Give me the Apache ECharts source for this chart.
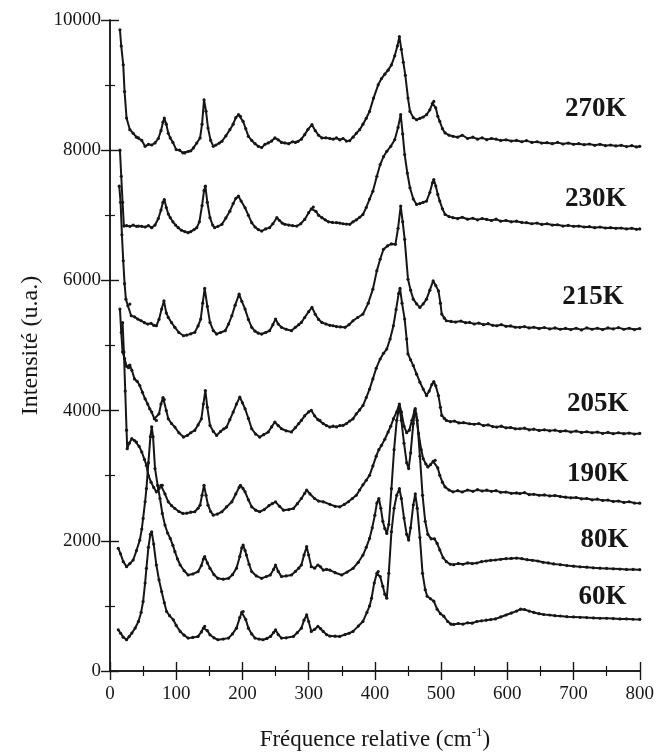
<!DOCTYPE html>
<html>
<head>
<meta charset="utf-8">
<script src="https://cdn.jsdelivr.net/npm/echarts@6/dist/echarts.min.js"></script>
<style>html,body{margin:0;padding:0;background:#fff;}#c{width:657px;height:756px;}</style>
</head>
<body>
<div id="c"></div>
<script>
// ---- data (x: cm-1, y: intensity u.a.) ----
const s270 = [[15,9850],[17,9600],[20,9311],[22,8900],[25,8494],[30,8315],[35,8260],[40,8200],[43,8188],[48,8150],[53,8060],[58,8090],[63,8080],[68,8112],[73,8180],[77,8300],[80,8430],[82,8494],[85,8400],[88,8260],[91,8188],[95,8120],[100,8009],[105,8000],[110,7960],[113,7958],[118,7980],[122,7990],[126,8035],[131,8110],[136,8188],[139,8400],[142,8775],[145,8600],[148,8341],[152,8150],[156,8060],[160,8080],[165,8110],[169,8137],[175,8220],[181,8315],[186,8400],[190,8500],[194,8545],[197,8520],[201,8443],[205,8330],[209,8213],[214,8150],[219,8100],[224,8060],[229,8040],[234,8090],[239,8112],[244,8140],[249,8188],[254,8160],[259,8120],[264,8112],[270,8100],[276,8130],[280,8120],[284,8137],[289,8170],[294,8239],[299,8320],[305,8392],[310,8300],[315,8230],[320,8188],[326,8190],[332,8180],[337,8170],[342,8188],[347,8160],[352,8180],[357,8140],[362,8147],[367,8200],[372,8260],[377,8315],[382,8400],[387,8490],[392,8596],[398,8800],[405,9004],[410,9100],[415,9168],[420,9230],[425,9311],[430,9450],[434,9600],[437,9744],[440,9550],[443,9350],[446,9150],[450,8800],[453,8596],[458,8500],[463,8468],[468,8490],[473,8510],[478,8545],[483,8620],[487,8720],[489,8750],[492,8650],[495,8520],[498,8443],[502,8330],[506,8265],[512,8230],[518,8213],[525,8200],[532,8230],[540,8180],[548,8200],[555,8170],[562,8190],[569,8162],[576,8180],[583,8170],[590,8150],[598,8160],[606,8140],[614,8150],[622,8130],[629,8147],[637,8120],[645,8130],[652,8110],[660,8115],[668,8100],[676,8120],[684,8095],[692,8110],[700,8090],[708,8100],[716,8085],[724,8095],[732,8075],[740,8090],[748,8070],[756,8080],[764,8065],[772,8075],[780,8055],[788,8070],[795,8050],[800,8060]];
const s230 = [[15,8000],[17,7600],[19,7200],[21,6835],[25,6840],[30,6830],[35,6850],[40,6830],[43,6835],[48,6830],[53,6820],[58,6840],[63,6810],[68,6850],[73,6950],[77,7080],[80,7200],[82,7243],[85,7120],[88,7020],[91,6963],[95,6900],[99,6850],[103,6810],[108,6770],[113,6750],[118,6733],[122,6750],[127,6780],[131,6810],[135,6900],[139,7150],[142,7380],[144,7447],[147,7200],[151,6963],[155,6850],[158,6810],[163,6830],[169,6861],[175,6960],[181,7064],[186,7180],[190,7260],[194,7294],[198,7220],[204,7116],[209,7000],[214,6887],[219,6820],[224,6780],[229,6758],[235,6790],[241,6810],[246,6870],[252,6963],[256,6920],[260,6880],[264,6861],[270,6850],[276,6840],[282,6835],[288,6870],[294,6937],[300,7040],[304,7100],[307,7126],[311,7060],[315,7000],[320,6963],[325,6930],[330,6900],[336,6890],[342,6887],[347,6880],[352,6870],[357,6865],[362,6861],[367,6900],[372,6930],[377,6970],[382,7014],[387,7120],[392,7250],[397,7371],[403,7600],[408,7779],[413,7900],[418,7983],[424,8060],[430,8162],[435,8350],[439,8545],[442,8250],[445,7933],[449,7650],[453,7423],[458,7250],[463,7167],[468,7180],[473,7200],[478,7218],[483,7350],[487,7500],[489,7550],[492,7450],[495,7320],[498,7218],[502,7100],[506,7014],[512,6980],[518,6963],[525,6950],[532,6970],[540,6940],[548,6955],[555,6930],[562,6950],[569,6937],[576,6920],[583,6940],[590,6910],[598,6920],[606,6900],[614,6910],[622,6890],[629,6887],[637,6870],[645,6880],[652,6860],[660,6870],[668,6850],[676,6855],[684,6835],[692,6845],[700,6830],[708,6835],[716,6820],[724,6825],[732,6810],[740,6820],[748,6805],[756,6810],[764,6800],[772,6805],[780,6790],[788,6800],[795,6785],[800,6790]];
const s215 = [[14,7447],[16,7200],[18,6700],[20,6300],[22,5950],[24,5712],[27,5610],[30,5636],[32,5457],[37,5440],[42,5406],[47,5380],[52,5350],[57,5329],[62,5340],[66,5310],[70,5303],[74,5400],[78,5560],[81.5,5686],[85,5500],[88,5432],[93,5350],[98,5279],[104,5200],[111,5150],[116,5160],[122,5180],[128,5202],[133,5300],[137,5406],[140,5650],[143,5876],[147,5600],[151,5355],[156,5230],[161,5176],[167,5200],[174,5227],[179,5330],[184,5457],[189,5620],[195,5789],[199,5680],[204,5559],[209,5400],[214,5279],[219,5220],[224,5190],[229,5176],[235,5200],[241,5227],[246,5320],[250,5406],[254,5330],[259,5279],[266,5250],[274,5227],[280,5280],[285,5320],[289,5355],[294,5430],[300,5520],[305,5585],[310,5480],[315,5400],[320,5355],[326,5330],[332,5310],[337,5303],[342,5290],[348,5285],[355,5279],[361,5320],[367,5380],[374,5430],[382,5482],[390,5650],[397,5865],[403,6150],[408,6325],[413,6478],[419,6530],[425,6560],[431,6554],[435,6800],[439,7141],[442,6900],[445,6631],[450,6018],[454,5850],[458,5712],[463,5640],[468,5585],[473,5640],[478,5712],[483,5850],[488,5992],[492,5920],[496,5839],[499,5650],[501,5482],[505,5420],[508,5380],[515,5370],[522,5360],[530,5375],[537,5350],[543,5355],[550,5330],[557,5345],[564,5320],[571,5335],[578,5310],[584,5303],[591,5320],[598,5295],[605,5300],[612,5280],[619,5279],[626,5290],[633,5270],[640,5280],[648,5260],[656,5275],[664,5255],[672,5270],[680,5250],[688,5262],[696,5245],[704,5265],[712,5240],[720,5270],[728,5250],[736,5265],[744,5245],[752,5270],[760,5255],[768,5275],[776,5250],[784,5265],[792,5245],[800,5260]];
const s205 = [[15,5560],[17,5200],[19,4900],[22,4800],[25,4680],[28,4660],[30,4700],[33,4620],[37,4487],[41,4450],[45,4385],[49,4280],[53,4181],[57,4100],[60,4028],[63,3977],[67,3874],[70,3849],[74,3950],[77,4100],[80,4200],[82,4170],[85,4000],[88,3874],[93,3800],[98,3747],[104,3660],[111,3594],[117,3620],[122,3660],[128,3696],[133,3780],[138,3874],[141,4100],[144,4308],[147,4050],[151,3772],[156,3680],[161,3619],[167,3680],[172,3720],[176,3747],[181,3860],[186,3977],[191,4100],[196,4206],[200,4120],[204,4028],[209,3880],[214,3721],[220,3640],[226,3594],[232,3630],[239,3671],[244,3750],[249,3824],[254,3770],[259,3721],[266,3690],[274,3671],[280,3740],[285,3800],[289,3849],[294,3920],[300,3980],[304,4002],[309,3920],[314,3860],[317,3849],[322,3800],[327,3770],[332,3747],[337,3760],[342,3750],[347,3770],[352,3772],[357,3800],[362,3840],[367,3874],[372,3950],[377,4010],[382,4078],[387,4200],[392,4330],[397,4487],[402,4650],[408,4793],[413,4880],[418,4946],[423,5100],[428,5303],[432,5550],[436,5800],[438,5876],[441,5650],[445,5406],[448,5100],[450,4870],[454,4780],[458,4691],[463,4560],[468,4436],[473,4330],[478,4231],[482,4300],[486,4400],[489,4447],[492,4380],[496,4231],[499,4050],[501,3926],[505,3880],[508,3849],[514,3830],[520,3840],[527,3810],[534,3815],[543,3798],[550,3790],[557,3800],[564,3770],[571,3780],[578,3755],[584,3747],[591,3760],[598,3735],[605,3740],[612,3720],[619,3721],[626,3730],[633,3705],[640,3715],[648,3695],[656,3705],[664,3690],[672,3700],[680,3680],[688,3690],[696,3670],[704,3685],[712,3665],[720,3675],[728,3660],[736,3670],[744,3650],[752,3665],[760,3645],[768,3660],[776,3645],[784,3655],[792,3640],[800,3650]];
const s190 = [[19,5350],[21,4900],[23,4300],[25,3700],[26,3415],[29,3500],[33,3568],[37,3540],[40,3517],[44,3450],[48,3364],[52,3250],[55,3160],[58,3000],[62,2900],[66,2820],[70,2752],[74,2800],[77,2850],[79,2853],[83,2720],[88,2599],[93,2540],[98,2496],[104,2450],[110,2420],[116,2425],[122,2440],[128,2446],[133,2500],[136,2547],[139,2700],[142,2853],[145,2700],[148,2547],[152,2450],[156,2394],[162,2410],[169,2446],[176,2520],[184,2599],[190,2720],[195,2820],[197,2853],[201,2800],[204,2752],[209,2630],[214,2522],[220,2470],[226,2446],[233,2480],[240,2540],[245,2570],[250,2599],[256,2530],[262,2471],[270,2480],[277,2496],[283,2570],[289,2650],[294,2730],[297,2777],[302,2720],[309,2650],[315,2610],[322,2599],[332,2560],[340,2530],[347,2522],[354,2560],[360,2600],[366,2650],[372,2700],[377,2780],[382,2860],[387,2930],[392,3006],[397,3150],[402,3300],[406,3400],[410,3466],[415,3560],[420,3671],[424,3760],[428,3874],[433,3980],[437,4100],[440,3980],[444,3760],[448,3660],[452,3700],[456,3850],[460,4000],[462,3950],[466,3650],[470,3400],[473,3262],[477,3180],[480,3135],[484,3170],[488,3220],[491,3236],[495,3120],[498,3006],[502,2900],[506,2828],[512,2780],[518,2752],[525,2770],[532,2750],[540,2780],[548,2760],[555,2785],[562,2765],[569,2777],[576,2760],[583,2770],[590,2745],[598,2750],[606,2730],[614,2735],[619,2726],[626,2740],[633,2710],[640,2715],[648,2700],[656,2705],[664,2690],[672,2695],[680,2680],[688,2670],[696,2660],[704,2665],[712,2645],[720,2650],[728,2630],[736,2640],[744,2620],[752,2625],[760,2605],[768,2610],[776,2590],[784,2600],[792,2580],[800,2578]];
const s80 = [[12.5,1884],[16,1800],[20,1680],[25,1603],[30,1650],[35,1705],[40,1850],[45,2011],[48,2180],[50,2343],[53,2600],[55,2802],[58,3200],[61,3600],[63,3752],[65,3600],[68,3109],[72,2850],[75.5,2650],[79,2420],[83,2241],[87,2120],[91,2037],[95,1930],[98,1833],[102,1720],[106,1628],[112,1540],[118,1475],[125,1490],[133,1527],[138,1620],[141,1720],[143,1756],[147,1660],[151,1577],[157,1480],[163,1424],[171,1410],[179,1424],[185,1480],[191,1577],[196,1760],[199,1890],[201,1934],[204,1850],[206,1781],[210,1640],[214,1527],[221,1460],[229,1424],[236,1450],[242,1475],[247,1560],[250,1628],[254,1530],[259,1450],[266,1460],[274,1475],[280,1530],[285,1580],[289,1628],[293,1780],[297,1909],[300,1780],[304,1603],[309,1580],[314,1628],[318,1600],[322,1551],[327,1560],[332,1551],[340,1510],[350,1475],[358,1520],[367,1577],[375,1670],[382,1781],[387,1900],[392,2037],[396,2200],[400,2394],[403,2580],[406,2650],[409,2500],[412,2300],[415,2190],[418,2113],[421,2250],[425,2800],[429,3400],[433,3850],[437,4060],[440,3850],[444,3500],[448,3200],[451,3109],[454,3350],[458,3800],[461,4030],[464,3850],[468,3300],[472,2700],[476,2300],[480,2100],[485,2030],[490,2030],[494,1960],[498,1860],[503,1740],[508,1680],[514,1640],[519,1634],[526,1650],[533,1640],[540,1660],[547,1650],[554,1659],[561,1680],[568,1690],[575,1700],[582,1705],[590,1715],[598,1725],[606,1730],[614,1735],[622,1725],[630,1710],[638,1700],[646,1690],[654,1670],[662,1660],[670,1645],[680,1634],[690,1620],[700,1610],[710,1600],[720,1595],[730,1585],[740,1580],[750,1575],[760,1570],[770,1565],[780,1560],[790,1560],[800,1557]];
const s60 = [[12.5,633],[16,580],[20,520],[25,480],[29,530],[33,582],[38,660],[43,761],[47,900],[50,1067],[53,1350],[55,1577],[58,1900],[61,2100],[63,2139],[66,1950],[70,1628],[74,1400],[78,1220],[82,1050],[85.5,914],[90,850],[95.6,786],[100,700],[106,608],[112,550],[118,505],[125,515],[133,531],[138,600],[141,660],[143,684],[147,620],[151,556],[157,510],[163,480],[171,490],[179,505],[185,570],[191,658],[196,820],[199,900],[201,914],[205,790],[209,658],[214,570],[219,505],[225,490],[231,480],[237,500],[242.5,531],[247,590],[250,633],[254,560],[259,505],[266,510],[277,531],[283,590],[289,658],[293,780],[297,862],[300,760],[304,608],[309,640],[314,684],[318,650],[322,608],[327,560],[332,536],[340,535],[347,531],[355,560],[361,580],[367,608],[375,690],[382,761],[388,900],[392,1000],[395,1118],[399,1350],[403,1500],[405,1527],[408,1450],[412,1300],[415,1180],[418,1118],[421,1500],[425,2139],[429,2500],[433,2700],[437,2800],[440,2650],[444,2350],[448,2100],[451,2011],[454,2200],[458,2550],[461,2720],[464,2500],[468,2050],[472,1500],[476,1250],[479,1148],[484,1110],[489,1072],[494,950],[499,880],[504,842],[510,760],[515,720],[519,715],[526,730],[533,720],[540,740],[547,735],[554,760],[561,770],[568,780],[575,790],[582,800],[590,830],[598,860],[606,890],[614,920],[620,950],[626,945],[633,920],[640,900],[648,880],[655,868],[664,860],[672,850],[680,845],[690,835],[700,830],[710,825],[720,820],[730,816],[740,810],[750,810],[760,805],[770,800],[780,800],[790,795],[800,792]];

const seriesData = [s270, s230, s215, s205, s190, s80, s60];
const temperatures = ['270K', '230K', '215K', '205K', '190K', '80K', '60K'];
// label anchor (right end of each label) in data units
const labelX = [780, 780, 776, 783, 783, 783, 780];
const labelY = [8640, 7245, 5745, 4095, 3025, 2010, 1135];

const xTicks = {min: 0, max: 800, step: 100};
const yTicks = {min: 0, max: 10000, step: 2000};

// ---- chart ----
const INK = '#161616';
const SERIF = '"Liberation Serif", "DejaVu Serif", serif';
const chart = echarts.init(document.getElementById('c'), null, {renderer: 'canvas'});

function axisBase(showLabel, margin) {
  return {
    axisLine: {show: true, lineStyle: {color: INK, width: 1.5}},
    axisTick: {show: true, inside: true, length: 9, lineStyle: {color: INK, width: 1.4}},
    minorTick: {show: true, splitNumber: 2, length: 5, lineStyle: {color: INK, width: 1.2}},
    splitLine: {show: false},
    minorSplitLine: {show: false},
    axisLabel: {show: showLabel, margin: margin, fontFamily: SERIF, fontSize: 19, color: INK, formatter: v => String(v)}
  };
}

const lineSeries = seriesData.map((d, i) => ({
  type: 'line',
  name: temperatures[i],
  data: d,
  xAxisIndex: 0,
  yAxisIndex: 0,
  showSymbol: true,
  symbol: 'circle',
  symbolSize: 3.2,
  itemStyle: {color: INK},
  lineStyle: {color: INK, width: 2},
  silent: true,
  z: 3
}));

const labelSeries = {
  type: 'scatter',
  xAxisIndex: 0,
  yAxisIndex: 0,
  symbolSize: 0,
  silent: true,
  itemStyle: {opacity: 1, color: INK},
  data: temperatures.map((t, i) => [labelX[i], labelY[i], t]),
  label: {
    show: true,
    position: 'left',
    distance: 0,
    formatter: p => p.data[2],
    fontFamily: SERIF,
    fontWeight: 'bold',
    fontSize: 27,
    color: INK,
    opacity: 1
  },
  z: 5
};

chart.setOption({
  animation: false,
  backgroundColor: '#fff',
  grid: {left: 110, right: 17, top: 20, bottom: 83, containLabel: false},
  xAxis: [
    Object.assign(axisBase(true, 14), {
      type: 'value', position: 'bottom', min: xTicks.min, max: xTicks.max, interval: xTicks.step,
      name: '{a|Fréquence relative (cm}{s|-1}{a|)}',
      nameLocation: 'middle', nameGap: 55,
      nameTextStyle: {
        rich: {
          a: {fontFamily: SERIF, fontSize: 23, color: INK},
          s: {fontFamily: SERIF, fontSize: 13, color: INK, verticalAlign: 'top', padding: [0, 0, 14, 0]}
        }
      }
    }),
    Object.assign(axisBase(false, 8), {
      type: 'value', position: 'top', min: xTicks.min, max: xTicks.max, interval: xTicks.step
    })
  ],
  yAxis: [
    Object.assign(axisBase(true, 9), {
      type: 'value', position: 'left', min: yTicks.min, max: yTicks.max, interval: yTicks.step,
      name: 'Intensité (u.a.)', nameLocation: 'middle', nameGap: 60,
      nameTextStyle: {fontFamily: SERIF, fontSize: 24, color: INK}
    }),
    Object.assign(axisBase(false, 8), {
      type: 'value', position: 'right', min: yTicks.min, max: yTicks.max, interval: yTicks.step
    })
  ],
  series: lineSeries.concat([labelSeries])
});
</script>
</body>
</html>
